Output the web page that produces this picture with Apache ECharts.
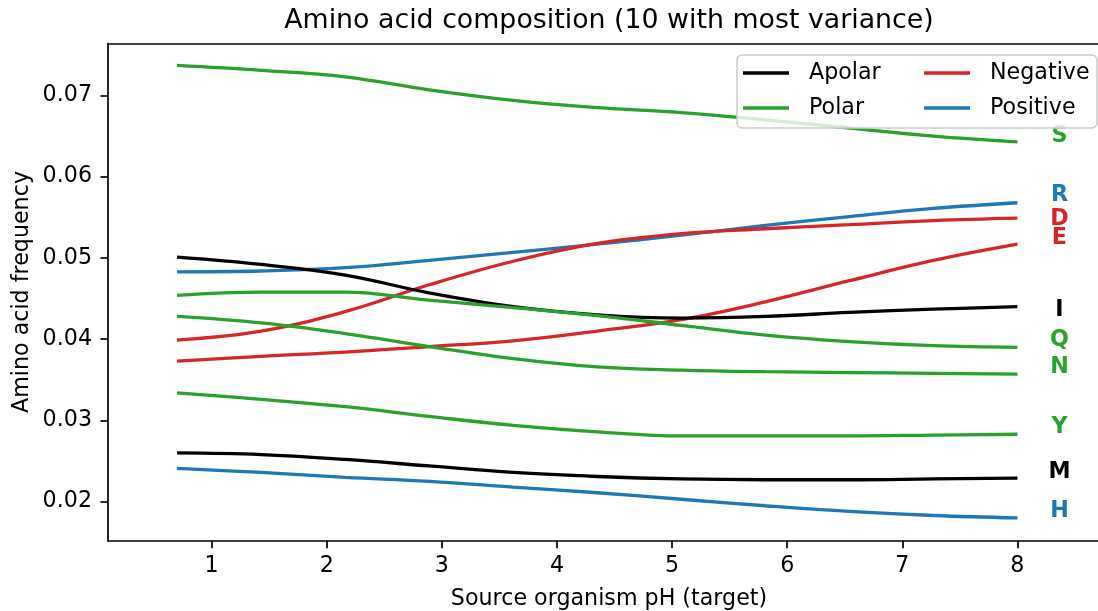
<!DOCTYPE html>
<html>
<head>
<meta charset="utf-8">
<script src="https://cdn.jsdelivr.net/npm/echarts@6/dist/echarts.min.js"></script>
<style>
  html, body { margin: 0; padding: 0; background: #ffffff; }
  #chart { width: 1098px; height: 611px; }
</style>
</head>
<body>
<div id="chart"></div>
<script>
// Source organism pH at which each composition curve is sampled
const phValues = [0.7, 1.43, 2.16, 2.89, 3.62, 4.35, 5.08, 5.81, 6.54, 7.27, 8.0];

// Amino acid frequencies (one array per residue)
const serS = [0.0737, 0.0731, 0.0723, 0.0707, 0.0694, 0.0685, 0.0679, 0.0670, 0.0660, 0.0650, 0.0643];
const argR = [0.0483, 0.0484, 0.0488, 0.0497, 0.0507, 0.0517, 0.0528, 0.0540, 0.0551, 0.0561, 0.0568];
const aspD = [0.0399, 0.0410, 0.0434, 0.0467, 0.0496, 0.0518, 0.0530, 0.0536, 0.0541, 0.0546, 0.0549];
const gluE = [0.0373, 0.0379, 0.0384, 0.0391, 0.0398, 0.0410, 0.0424, 0.0446, 0.0472, 0.0497, 0.0517];
const ileI = [0.0501, 0.0492, 0.0479, 0.0457, 0.0440, 0.0430, 0.0426, 0.0428, 0.0433, 0.0437, 0.0440];
const glnQ = [0.0454, 0.0458, 0.0458, 0.0448, 0.0439, 0.0429, 0.0417, 0.0405, 0.0397, 0.0392, 0.0390];
const asnN = [0.0428, 0.0420, 0.0407, 0.0391, 0.0376, 0.0366, 0.0362, 0.0360, 0.0359, 0.0358, 0.0357];
const tyrY = [0.0334, 0.0326, 0.0317, 0.0305, 0.0294, 0.0286, 0.0281, 0.0281, 0.0281, 0.0282, 0.0283];
const metM = [0.0260, 0.0258, 0.0252, 0.0244, 0.0236, 0.0231, 0.0228, 0.0227, 0.0227, 0.0228, 0.0229];
const hisH = [0.0241, 0.0236, 0.0230, 0.0225, 0.0218, 0.0211, 0.0203, 0.0195, 0.0188, 0.0183, 0.0180];

// Axis ticks
const xTicks = [1, 2, 3, 4, 5, 6, 7, 8];
const yTicks = [0.02, 0.03, 0.04, 0.05, 0.06, 0.07];

// Residue classes
const groupNames = ['Apolar', 'Polar', 'Negative', 'Positive'];
const groupColors = { Apolar: '#000000', Polar: '#2ca02c', Negative: '#d62728', Positive: '#1f77b4' };

// Residues: letter, class, values
const residues = [
  { letter: 'S', group: 'Polar', values: serS },
  { letter: 'R', group: 'Positive', values: argR },
  { letter: 'D', group: 'Negative', values: aspD },
  { letter: 'E', group: 'Negative', values: gluE },
  { letter: 'I', group: 'Apolar', values: ileI },
  { letter: 'Q', group: 'Polar', values: glnQ },
  { letter: 'N', group: 'Polar', values: asnN },
  { letter: 'Y', group: 'Polar', values: tyrY },
  { letter: 'M', group: 'Apolar', values: metM },
  { letter: 'H', group: 'Positive', values: hisH }
];

// Vertical pixel nudges for end labels so they do not collide
const labelNudge = { S: -6, R: -7, D: 1, E: -6, I: 4, Q: -7, N: -7, Y: -7, M: -6, H: -7 };

const FONT = 'DejaVu Sans';
const FS = 22.2;

const series = residues.map(r => ({
  type: 'line',
  name: r.group,
  data: phValues.map((x, i) => [x, r.values[i]]),
  symbol: 'none',
  smooth: 0.4,
  lineStyle: { color: groupColors[r.group], width: 3.3 },
  itemStyle: { color: groupColors[r.group] },
  z: 2,
  animation: false,
  endLabel: {
    show: true,
    formatter: r.letter,
    color: groupColors[r.group],
    fontFamily: FONT,
    fontWeight: 'bold',
    fontSize: FS,
    distance: 0,
    align: 'center',
    verticalAlign: 'middle',
    offset: [42, labelNudge[r.letter]]
  }
}));

const legendText = { fontFamily: FONT, fontSize: FS, color: '#000', lineHeight: 24, padding: [0, 0, 0, 15] };
const legendBase = { orient: 'vertical', top: 61, padding: 0, icon: 'rect',
  itemWidth: 46, itemHeight: 3.3, itemGap: 11, selectedMode: false, z: 6, textStyle: legendText };

const chart = echarts.init(document.getElementById('chart'), null, { renderer: 'canvas' });
chart.setOption({
  backgroundColor: '#ffffff',
  animation: false,
  grid: { left: 108, top: 43.5, right: 0, bottom: 70.3 },
  xAxis: [
    {
      type: 'value',
      min: 0.1, max: 8.7,
      axisLine: { show: true, lineStyle: { color: '#000', width: 1.7 } },
      splitLine: { show: false },
      axisTick: { show: true, length: 7.5, customValues: xTicks, lineStyle: { color: '#000', width: 1.7 } },
      axisLabel: { customValues: xTicks, margin: 15, color: '#000', fontFamily: FONT, fontSize: FS }
    },
    {
      // top frame line
      type: 'value', position: 'top', min: 0.1, max: 8.7,
      axisLine: { show: true, lineStyle: { color: '#000', width: 1.7 } },
      axisTick: { show: false }, axisLabel: { show: false }, splitLine: { show: false }
    }
  ],
  yAxis: {
    type: 'value',
    min: 0.0152, max: 0.0764,
    axisLine: { show: true, lineStyle: { color: '#000', width: 1.7 } },
    splitLine: { show: false },
    axisTick: { show: true, length: 7.5, customValues: yTicks, lineStyle: { color: '#000', width: 1.7 } },
    axisLabel: { customValues: yTicks, margin: 16, color: '#000', fontFamily: FONT, fontSize: FS,
      formatter: v => v.toFixed(2) }
  },
  legend: [
    Object.assign({ data: ['Apolar', 'Polar'], left: 743 }, legendBase),
    Object.assign({ data: ['Negative', 'Positive'], left: 924 }, legendBase)
  ],
  graphic: [
    { type: 'rect', z: 5, shape: { x: 737, y: 55, width: 360, height: 73, r: 5 },
      style: { fill: 'rgba(255,255,255,0.8)', stroke: '#cccccc', lineWidth: 1.5 } },
    { type: 'text', x: 609, y: 21, style: { text: 'Amino acid composition (10 with most variance)',
      fontFamily: FONT, fontSize: 26.8, fill: '#000', textAlign: 'center', textVerticalAlign: 'middle' } },
    { type: 'text', x: 609, y: 599, style: { text: 'Source organism pH (target)',
      fontFamily: FONT, fontSize: FS, fill: '#000', textAlign: 'center', textVerticalAlign: 'middle' } },
    { type: 'text', x: 22, y: 292, rotation: Math.PI / 2, style: { text: 'Amino acid frequency',
      fontFamily: FONT, fontSize: FS, fill: '#000', textAlign: 'center', textVerticalAlign: 'middle' } }
  ],
  series: series
});
</script>
</body>
</html>
